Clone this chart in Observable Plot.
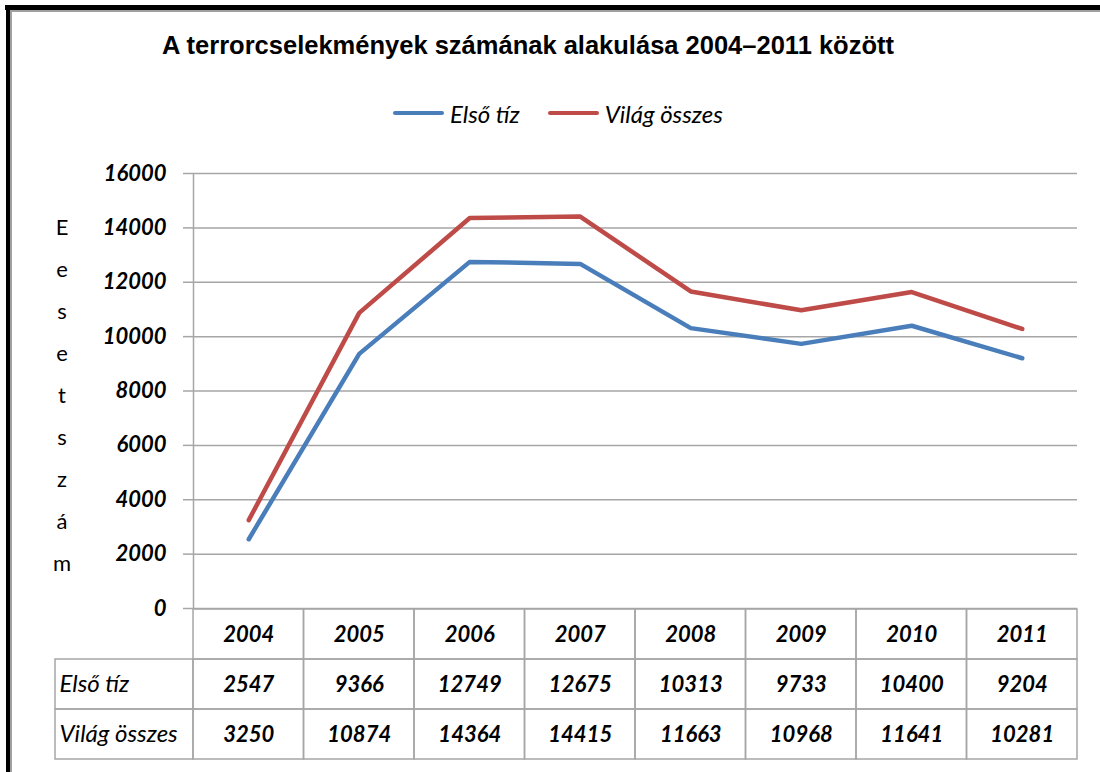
<!DOCTYPE html>
<html>
<head>
<meta charset="utf-8">
<script src="https://cdn.jsdelivr.net/npm/d3@7"></script>
<script src="https://cdn.jsdelivr.net/npm/@observablehq/plot@0.6"></script>
<style>
  html, body { margin: 0; padding: 0; background: #fff; }
  #page { position: relative; width: 1100px; height: 772px; overflow: hidden; background: #fff; }
  .abs { position: absolute; }
  #title { left: 0; width: 1056px; top: 31px; text-align: center; font-family: "Liberation Sans", Arial, sans-serif; font-weight: bold; font-size: 25.5px; color: #000; white-space: nowrap; }
  #legend { left: 393px; top: 99px; display: flex; align-items: center; font-family: Lato, sans-serif; font-style: italic; font-size: 24px; color: #000; height: 28px; }
  .sw { display: inline-block; width: 51px; height: 4.5px; border-radius: 2px; }
  #ylabel { left: 48px; top: 206px; width: 28px; text-align: center; font-family: Lato, sans-serif; font-size: 22px; line-height: 42px; color: #000; }
  #chart, #table { position: absolute; left: 0; }
  #chart { top: 150px; }
  #table { top: 607px; }
</style>
</head>
<body>
<div id="page">
  <div class="abs" style="left:5px;top:5px;width:1095px;height:5px;background:#000"></div>
  <div class="abs" style="left:10px;top:10px;width:1090px;height:2px;background:#a0a0a0"></div>
  <div class="abs" style="left:6px;top:5px;width:5px;height:767px;background:#000"></div>
  <div class="abs" style="left:10px;top:10px;width:2px;height:762px;background:#a0a0a0"></div>
  <div id="title" class="abs">A terrorcselekmények számának alakulása 2004–2011 között</div>
  <div id="legend" class="abs"></div>
  <div id="ylabel" class="abs"></div>
  <div id="chart"></div>
  <div id="table"></div>
</div>
<script>
// ---- data ----
const years = ["2004", "2005", "2006", "2007", "2008", "2009", "2010", "2011"];
const elsoTiz = [2547, 9366, 12749, 12675, 10313, 9733, 10400, 9204];
const vilagOsszes = [3250, 10874, 14364, 14415, 11663, 10968, 11641, 10281];
const seriesNames = ["Első tíz", "Világ összes"];
const yTicks = [0, 2000, 4000, 6000, 8000, 10000, 12000, 14000, 16000];
const yAxisTitle = "Eesetszám";

// ---- styling ----
const colors = ["#4a7ebb", "#be4b48"];
const gridColor = "#a6a6a6";
const seriesValues = [elsoTiz, vilagOsszes];

// legend
const legend = document.getElementById("legend");
seriesNames.forEach((name, k) => {
  const sw = document.createElement("span");
  sw.className = "sw";
  sw.style.background = colors[k];
  sw.style.marginRight = "6px";
  if (k > 0) sw.style.marginLeft = "28px";
  const t = document.createElement("span");
  t.textContent = name;
  legend.appendChild(sw);
  legend.appendChild(t);
});

// vertical y label
const yl = document.getElementById("ylabel");
yl.innerHTML = Array.from(yAxisTitle).map(c => `<div>${c}</div>`).join("");

// rows for lines
const rows = [];
seriesNames.forEach((s, k) => years.forEach((y, i) => rows.push({ series: s, year: y, i, value: seriesValues[k][i] })));

const n = years.length;
const chart = Plot.plot({
  width: 1100,
  height: 460,
  marginTop: 23,
  marginBottom: 2,
  marginLeft: 193,
  marginRight: 23,
  x: { domain: [0, n], axis: null },
  y: { domain: [0, 16000], axis: null },
  color: { domain: seriesNames, range: colors },
  style: { background: "transparent", overflow: "visible", fontFamily: "Lato, sans-serif", fontSize: "22px", fontStyle: "italic", fontWeight: "bold", color: "#000" },
  marks: [
    Plot.ruleY(yTicks, { x1: 0, x2: n, stroke: gridColor, strokeWidth: 1.5 }),
    Plot.ruleX([0], { y1: 0, y2: 16000, stroke: gridColor, strokeWidth: 1.5 }),
    Plot.axisY(yTicks, { anchor: "left", tickSize: 10, tickPadding: 17, tickFormat: d3.format("d"), stroke: gridColor, strokeWidth: 1.5, strokeOpacity: 1, label: null, fontSize: 22, fontStyle: "italic", fontWeight: "bold", fill: "#000" }),
    Plot.line(rows, { x: d => d.i + 0.5, y: "value", z: "series", stroke: "series", strokeWidth: 4.5, strokeLinejoin: "round", strokeLinecap: "round" })
  ]
});
document.getElementById("chart").appendChild(chart);

// table
const labelW = 1.249;
const rowKeys = ["year", ...seriesNames];
const cells = [];
years.forEach((y, i) => cells.push({ row: "year", x1: i, x2: i + 1, text: y, label: false }));
seriesNames.forEach((s, k) => {
  cells.push({ row: s, x1: -labelW, x2: 0, text: s, label: true });
  years.forEach((y, i) => cells.push({ row: s, x1: i, x2: i + 1, text: String(seriesValues[k][i]), label: false }));
});

const table = Plot.plot({
  width: 1100,
  height: 153,
  marginTop: 1,
  marginBottom: 1,
  marginLeft: 55,
  marginRight: 23,
  x: { domain: [-labelW, n], axis: null },
  y: { type: "band", domain: rowKeys, padding: 0, axis: null },
  style: { background: "transparent", overflow: "visible", fontFamily: "Lato, sans-serif", fontSize: "22px", color: "#000" },
  marks: [
    Plot.barX(cells, { x1: "x1", x2: "x2", y: "row", fill: "none", stroke: gridColor, strokeWidth: 1.5 }),
    Plot.text(cells.filter(d => !d.label), { x: d => (d.x1 + d.x2) / 2, y: "row", text: "text", fontSize: 22, fontStyle: "italic", fontWeight: "bold", fill: "#000" }),
    Plot.text(cells.filter(d => d.label), { x: "x1", y: "row", text: "text", textAnchor: "start", dx: 4, fontSize: 24, fontStyle: "italic", fontWeight: "normal", fill: "#000" })
  ]
});
document.getElementById("table").appendChild(table);
</script>
</body>
</html>
